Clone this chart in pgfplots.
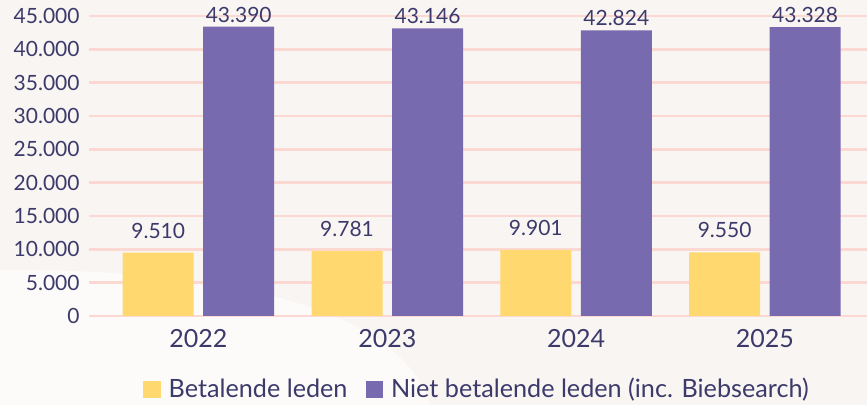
\documentclass[border=0pt]{standalone}
\usepackage{pgfplots}
\pgfplotsset{compat=1.18}
\usepackage{fontspec}
\setmainfont{Lato}
\definecolor{bgc}{HTML}{F9F5F2}
\definecolor{bgl}{HTML}{FDFBFA}
\definecolor{gridc}{HTML}{FCD8D3}
\definecolor{yel}{HTML}{FFD970}
\definecolor{pur}{HTML}{786AAE}
\definecolor{txt}{HTML}{3B3A6B}
\begin{document}
\begin{tikzpicture}
\fill[bgc] (0pt,0pt) rectangle (433.5pt,202.5pt);
\fill[bgl] (0pt,67.5pt) .. controls (110pt,68pt) and (200pt,50pt) .. (215pt,0pt) -- (0pt,0pt) -- cycle;
\begin{axis}[
  at={(44.5pt,44.5pt)}, anchor=south west,
  scale only axis, width=389pt, height=150pt,
  ybar=4.75pt, bar width=35.5pt,
  xmin=-0.58, xmax=3.541, ymin=0, ymax=45000,
  xtick={0,1,2,3}, xticklabels={2022,2023,2024,2025},
  ytick={0,5000,...,45000},
  scaled y ticks=false,
  /pgf/number format/.cd, 1000 sep={.}, assume math mode=true, /pgfplots/.cd,
  axis line style={draw=none},
  major tick length=0pt,
  ymajorgrids, grid style={gridc, line width=1.2pt},
  clip=false,
  yticklabel style={font=\fontsize{10.5}{12}\selectfont, text=txt, inner sep=0pt, xshift=-4.5pt},
  xticklabel style={font=\fontsize{12.5}{14}\selectfont, text=txt, inner sep=0pt, yshift=-6.5pt},
  nodes near coords,
  every node near coord/.append style={font=\fontsize{10.5}{12}\selectfont, text=txt, inner sep=1.5pt},
  legend style={at={(0.5,-0.245)}, anchor=center, draw=none, fill=none,
    font=\fontsize{12.6}{14}\selectfont, text=txt, legend columns=2,
    /tikz/every odd column/.append style={column sep=2pt},
    /tikz/every even column/.append style={column sep=7pt}},
  legend image code/.code={\fill[#1] (0pt,-4.4pt) rectangle (8.8pt,4.4pt);},
]
\addplot[fill=yel, draw=none, every node near coord/.append style={yshift=5.5pt}] coordinates {(0,9510) (1,9781) (2,9901) (3,9550)};
\addplot[fill=pur, draw=none, every node near coord/.append style={yshift=0.5pt}] coordinates {(0,43390) (1,43146) (2,42824) (3,43328)};
\legend{Betalende leden, Niet betalende leden (inc. Biebsearch)}
\end{axis}
\pgfresetboundingbox
\path[use as bounding box] (0pt,0pt) rectangle (433.5pt,202.5pt);
\end{tikzpicture}
\end{document}
